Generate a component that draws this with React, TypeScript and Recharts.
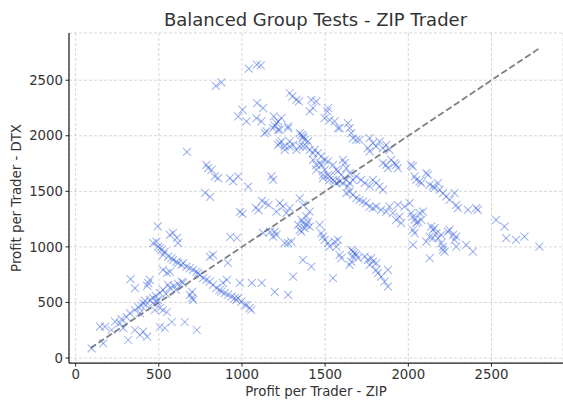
import { ScatterChart, Scatter, XAxis, YAxis, CartesianGrid, ReferenceLine, Label } from 'recharts';

// [profit ZIP, profit DTX] per trader
const lowerDiagonal: [number, number][] = [
  [96, 87], [146, 282], [176, 282], [166, 132], [216, 252], [236, 327], [266, 313], [276, 349],
  [286, 268], [306, 367], [326, 403], [316, 162], [330, 709], [356, 628], [356, 432], [376, 457],
  [396, 468], [386, 403], [406, 493], [416, 516], [356, 252], [386, 207], [406, 237], [430, 192],
  [436, 673], [446, 703], [430, 649], [446, 523], [464, 541], [482, 559], [422, 477], [476, 432],
  [464, 495], [488, 505], [494, 523],
];

const middleDiagonal: [number, number][] = [
  [506, 586], [525, 613], [543, 577], [567, 631], [591, 649], [615, 667], [603, 613], [555, 658],
  [525, 793], [549, 766], [567, 775], [639, 685], [645, 676], [700, 595], [688, 568], [700, 541],
  [706, 523], [807, 910], [825, 928], [915, 856], [885, 676], [909, 703], [506, 450], [525, 432],
  [549, 414], [506, 279], [536, 270], [578, 324], [656, 324], [728, 252], [930, 1090], [970, 1080],
];

const lowBand: [number, number][] = [
  [466, 1033], [486, 1048], [496, 1003], [506, 988], [516, 973], [536, 958], [526, 928], [556, 913],
  [576, 898], [586, 883], [606, 868], [616, 853], [636, 838], [646, 853], [666, 823], [686, 808],
  [706, 793], [726, 778], [736, 763], [746, 748], [766, 718], [786, 703], [806, 688], [826, 658],
  [846, 628], [866, 613], [876, 598], [896, 583], [916, 568], [936, 553], [956, 538], [966, 523],
  [976, 538], [996, 507], [1016, 477], [1046, 448], [1056, 432], [1029, 477], [566, 1108], [585, 1126],
  [609, 1081], [615, 1036], [494, 1185],
];

const centerLow: [number, number][] = [
  [987, 676], [1059, 676], [1119, 676], [1197, 595], [1277, 568], [1126, 1126], [1168, 1135], [1197, 1138],
  [1187, 1093], [1207, 1108], [1257, 1033], [1277, 1033], [1297, 1048], [1307, 733],
  [778, 1486], [808, 1450], [988, 1315], [1003, 1297], [1083, 1351], [1120, 1414], [1140, 1395], [1160, 1378],
  [1100, 1330],
];

const centerMid: [number, number][] = [
  [1357, 1243], [1367, 1213], [1387, 1198], [1377, 1168], [1397, 1228], [1407, 1183], [1337, 1198], [1347, 1153],
  [1357, 1138], [1467, 1198], [1477, 1123], [1487, 1093], [1497, 1063], [1527, 1003], [1557, 1048], [1577, 1063],
  [1567, 1003], [1587, 928], [1597, 898], [1657, 973], [1667, 958], [1677, 943], [1687, 928], [1667, 913],
  [1697, 898], [1647, 838], [1657, 868], [1737, 913], [1757, 883], [1777, 898], [1787, 868], [1807, 853],
  [1767, 838], [1807, 793], [1817, 763], [1837, 733], [1877, 793], [1857, 687], [1877, 642], [1367, 883],
  [1417, 823], [1547, 718], [1517, 1033], [1927, 1243], [1957, 1213],
  [1227, 1394], [1247, 1364], [1207, 1318], [1267, 1303], [1287, 1349], [1347, 1439], [1367, 1379], [1407, 1318],
  [1387, 1274],
];

const upperLeft: [number, number][] = [
  [1041, 2604], [1089, 2640], [1113, 2633], [843, 2450], [876, 2480],
  [1091, 2294], [1127, 2249], [1003, 2234], [977, 2174], [1027, 2129], [1087, 2159], [1117, 2129], [1191, 2174],
  [1217, 2129], [1237, 2159], [1197, 2090], [1217, 2054], [1277, 2069], [1147, 2039], [1137, 2024], [1227, 1934],
  [1257, 1904], [1287, 1949], [1207, 2114], [1187, 2069], [1227, 2054], [1277, 2084], [1237, 1949], [1217, 1919],
  [1287, 1904], [1257, 1874],
  [786, 1739], [796, 1709], [817, 1694], [837, 1634], [857, 1619], [927, 1619], [947, 1589], [977, 1634],
  [1037, 1543], [1177, 1634], [669, 1856], [1187, 1604],
];

const upperBand: [number, number][] = [
  [1287, 2385], [1303, 2354], [1327, 2324], [1343, 2309], [1417, 2324], [1447, 2309], [1427, 2250], [1407, 2219],
  [1517, 2250], [1513, 2219], [1497, 2159], [1527, 2144], [1557, 2129], [1577, 2069], [1347, 2024], [1367, 1994],
  [1377, 1964], [1397, 1949], [1307, 1919], [1347, 1904], [1327, 1874], [1387, 1904], [1407, 1874], [1437, 1874],
  [1457, 1844], [1477, 1814], [1497, 1784], [1467, 1754], [1517, 1769], [1547, 1739], [1567, 1694], [1447, 1694],
  [1487, 1649], [1527, 1634], [1547, 1604], [1567, 1574], [1357, 2009], [1367, 1979], [1367, 1904], [1427, 1844],
  [1427, 1784], [1447, 1739], [1477, 1739], [1497, 1694], [1517, 1649], [1487, 1619], [1527, 1604], [1557, 1589],
];

const centerHigh: [number, number][] = [
  [1587, 2069], [1637, 2114], [1647, 2069], [1657, 2024], [1667, 1979], [1687, 1964], [1707, 1964], [1767, 1979],
  [1787, 1934], [1807, 1904], [1827, 1949], [1847, 1889], [1867, 1919], [1887, 1874], [1757, 1889], [1767, 1859],
  [1897, 1784], [1917, 1754], [1937, 1709], [1927, 1739], [1847, 1754], [1867, 1739], [1877, 1709], [1607, 1784],
  [1617, 1754], [1627, 1709], [1577, 1679], [1597, 1649], [1647, 1664], [1587, 1589], [1607, 1574], [1627, 1604],
  [1647, 1574], [1667, 1604], [1687, 1634], [1717, 1604], [1737, 1574], [1767, 1544], [1787, 1604], [1807, 1574],
  [1827, 1544], [1847, 1514], [1637, 1544], [1647, 1498], [1627, 1484], [1667, 1468], [1687, 1439], [1707, 1423],
  [1727, 1408], [1747, 1394], [1767, 1363], [1787, 1349], [1807, 1363], [1837, 1333], [1867, 1318], [1887, 1363],
  [1907, 1303], [1937, 1378], [1947, 1273], [1977, 1363],
];

const rightSide: [number, number][] = [
  [2017, 1739], [2027, 1724], [2038, 1634], [2048, 1604], [2068, 1589], [2078, 1574], [2108, 1664], [2118, 1649],
  [2128, 1559], [2148, 1544], [2158, 1529], [2178, 1574], [2188, 1514], [2208, 1484], [2228, 1454], [2248, 1423],
  [2278, 1484], [2288, 1378], [2298, 1348], [2358, 1333], [2408, 1348], [2418, 1333],
  [2008, 1394], [2018, 1303], [2028, 1273], [2038, 1243], [2048, 1213], [2028, 1153], [2038, 1123], [2068, 1303],
  [2088, 1318], [2078, 1243], [2058, 1228], [2138, 1183], [2148, 1153], [2158, 1168], [2168, 1123], [2128, 1093],
  [2148, 1078], [2178, 1078], [2198, 1108], [2108, 1048], [2208, 1003], [2198, 1033], [2238, 1138], [2248, 1153],
  [2268, 1108], [2288, 1093], [2278, 1063], [2028, 1018], [2128, 898], [2208, 973], [2218, 958], [2288, 1003],
  [2348, 1018], [2388, 958],
  [2528, 1243], [2578, 1183], [2588, 1078], [2648, 1063], [2698, 1093], [2788, 1003],
];

const ticks = [0, 500, 1000, 1500, 2000, 2500];
const diagonalEnds = [90, 2790];

const points = [
  lowerDiagonal, middleDiagonal, lowBand, centerLow, centerMid,
  upperLeft, upperBand, centerHigh, rightSide,
].flat().map(([zip, dtx]) => ({ zip, dtx }));

const font = 'DejaVu Sans';
const ink = '#333333';

function Cross({ cx, cy }: any) {
  const r = 4;
  return (
    <g stroke="#4169e1" strokeOpacity={0.5} strokeWidth={1.05}>
      <line x1={cx - r} y1={cy - r} x2={cx + r} y2={cy + r} />
      <line x1={cx - r} y1={cy + r} x2={cx + r} y2={cy - r} />
    </g>
  );
}

export default function App() {
  return (
    <div style={{ position: 'absolute', left: 0, top: 0, width: 563, height: 401, background: '#fff' }}>
      <svg width={563} height={40} style={{ position: 'absolute', left: 0, top: 0 }}>
        <text x={315.5} y={26} textAnchor="middle" fontFamily={font} fontSize={18} fill={ink}>
          Balanced Group Tests - ZIP Trader
        </text>
      </svg>
      <ScatterChart width={563} height={401} margin={{ top: 33, right: 0, bottom: 0, left: 0 }}>
        <CartesianGrid stroke="#cccccc" strokeDasharray="3 2" strokeWidth={0.8} />
        <XAxis
          type="number"
          dataKey="zip"
          domain={[-40, 2930]}
          ticks={ticks}
          height={38}
          axisLine={{ stroke: '#222', strokeWidth: 1.25 }}
          tickLine={{ stroke: '#222' }}
          tickSize={3.5}
          tickMargin={3}
          tick={{ fontSize: 13.3, fill: ink, fontFamily: font }}
        >
          <Label value="Profit per Trader - ZIP" position="insideBottom" offset={5}
            style={{ fontSize: 13.3, fill: ink, fontFamily: font }} />
        </XAxis>
        <YAxis
          type="number"
          dataKey="dtx"
          domain={[-45, 2925]}
          ticks={ticks}
          width={69}
          axisLine={{ stroke: '#222', strokeWidth: 1.25 }}
          tickLine={{ stroke: '#222' }}
          tickSize={3.5}
          tickMargin={2.5}
          tick={{ fontSize: 13.3, fill: ink, fontFamily: font }}
        >
          <Label
            content={() => (
              <text x={21} y={198} transform="rotate(-90 21 198)" textAnchor="middle"
                fontSize={13.3} fill={ink} fontFamily={font}>
                Profit per Trader - DTX
              </text>
            )}
          />
        </YAxis>
        <Scatter data={points} shape={(p: any) => <Cross {...p} />} isAnimationActive={false} />
        <ReferenceLine
          segment={[{ x: diagonalEnds[0], y: diagonalEnds[0] }, { x: diagonalEnds[1], y: diagonalEnds[1] }]}
          stroke="#7f7f7f"
          strokeWidth={1.8}
          strokeDasharray="6.5 3"
        />
      </ScatterChart>
    </div>
  );
}
